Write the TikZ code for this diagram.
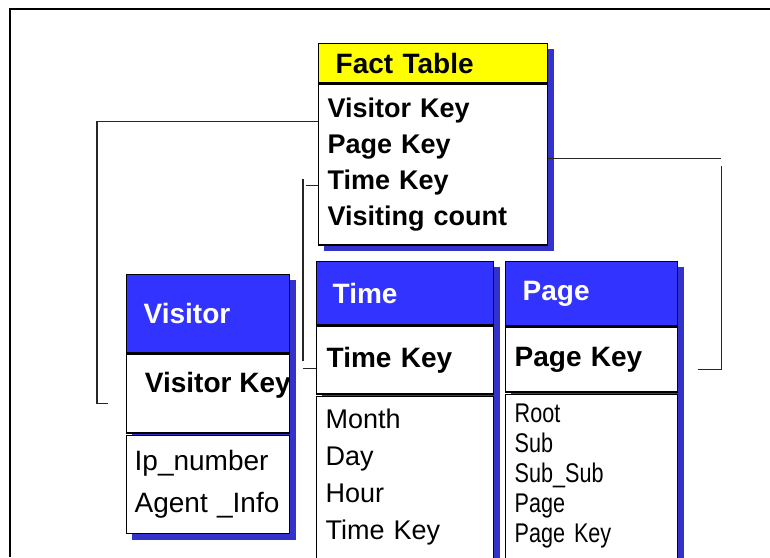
\documentclass[tikz,border=0pt]{standalone}
\usepackage{fontspec}
\setmainfont{Liberation Sans}
\newfontfamily\narrowsans[FakeStretch=0.8]{Liberation Sans}
\usetikzlibrary{positioning, backgrounds}

\definecolor{headblue}{RGB}{51,51,255}
\definecolor{shadeblue}{RGB}{51,51,204}
\definecolor{factyellow}{RGB}{255,255,0}

\begin{document}
\begin{tikzpicture}[x=1pt, y=-1pt,
        part/.style={draw, line width=1.3pt, fill=white, anchor=north west, align=left, inner ysep=0pt},
        head/.style={part, fill=headblue, text=white, font=\bfseries\fontsize{28}{34}\selectfont},
        keyrow/.style={part, font=\bfseries\fontsize{28}{34}\selectfont},
        attrs/.style={part, font=\fontsize{27}{37}\selectfont, inner xsep=9pt},
        shade/.style={fill=shadeblue},
        link/.style={line width=1.1pt, black!85}
    ]
    \useasboundingbox (0,0) rectangle (770,557);

    % Frame
    \draw[line width=2pt] (10,557) -- (10,9) -- (770,9);

    % Fact table
    \node[head, fill=factyellow, text=black, text width=195pt, inner xsep=17pt, minimum height=39pt] (facthead) at (318,43) {Fact Table};
    \node[keyrow, below=0pt of facthead, text width=211pt, inner xsep=9pt, minimum height=161pt,
        font=\bfseries\fontsize{27}{36}\selectfont] (factfields) {Visitor Key\\Page Key\\Time Key\\Visiting count};

    % Visitor
    \node[head, text width=129pt, inner xsep=17pt, minimum height=78pt] (visitorhead) at (126,274) {Visitor};
    \node[keyrow, below=0pt of visitorhead, minimum width=163pt, minimum height=79pt,
        path picture={\node[draw=none, fill=none, anchor=west, inner sep=0pt] (visitorkeytext)
            at ([xshift=9pt, yshift=8pt]path picture bounding box.west) {Visitor Key};}] (visitorkey) {};
    \node[attrs, below=1pt of visitorkey, text width=147pt, inner xsep=8pt, minimum height=98pt,
        font=\fontsize{28}{42}\selectfont] (visitorattrs) {Ip\_number\\Agent \_Info};

    % Time
    \node[head, text width=145pt, inner xsep=16pt, minimum height=63pt] (timehead) at (316,261) {Time};
    \node[keyrow, below=0pt of timehead, text width=157pt, inner xsep=10pt, minimum height=68pt] (timekey) {Time Key};
    \node[attrs, below=1pt of timekey, text width=159pt, minimum height=162pt] (timeattrs) {Month\\Day\\Hour\\Time Key};

    % Page
    \node[head, text width=138pt, inner xsep=17pt, minimum height=64pt] (pagehead) at (505,261) {Page};
    \node[keyrow, below=0pt of pagehead, text width=154pt, inner xsep=9pt, minimum height=65pt] (pagekey) {Page Key};
    \node[attrs, below=1pt of pagekey, text width=154pt, minimum height=164pt,
        font=\narrowsans\fontsize{27}{30}\selectfont] (pageattrs) {Root\\Sub\\Sub\_Sub\\Page\\Page Key};

    % Shadows
    \begin{scope}[on background layer]
        \fill[shade] ([shift={(6pt,-6pt)}]facthead.north west) rectangle ([shift={(6pt,-5pt)}]factfields.south east);
        \fill[shade] ([shift={(6pt,-6pt)}]visitorhead.north west) rectangle ([shift={(6pt,-6pt)}]visitorattrs.south east);
        \fill[shade] ([shift={(6pt,-6pt)}]timehead.north west) rectangle ([shift={(6pt,-6pt)}]timeattrs.south east);
        \fill[shade] ([shift={(6pt,-6pt)}]pagehead.north west) rectangle ([shift={(6pt,-6pt)}]pageattrs.south east);
    \end{scope}

    % Links
    \draw[link] ([yshift=-38pt]factfields.north west) -- ++(-221,0) -- ++(0,282) -- ++(11,0);
    \draw[link] ([yshift=-102pt]factfields.north west) -- ++(-12,0) ++(-3,-6) -- ++(0,182) ++(0,7) -- ++(13,0);
    \draw[link] ([yshift=-75pt]factfields.north east) -- ++(173,0) ++(0,8) -- ++(0,203) -- ++(-23,0);

\end{tikzpicture}
\end{document}
